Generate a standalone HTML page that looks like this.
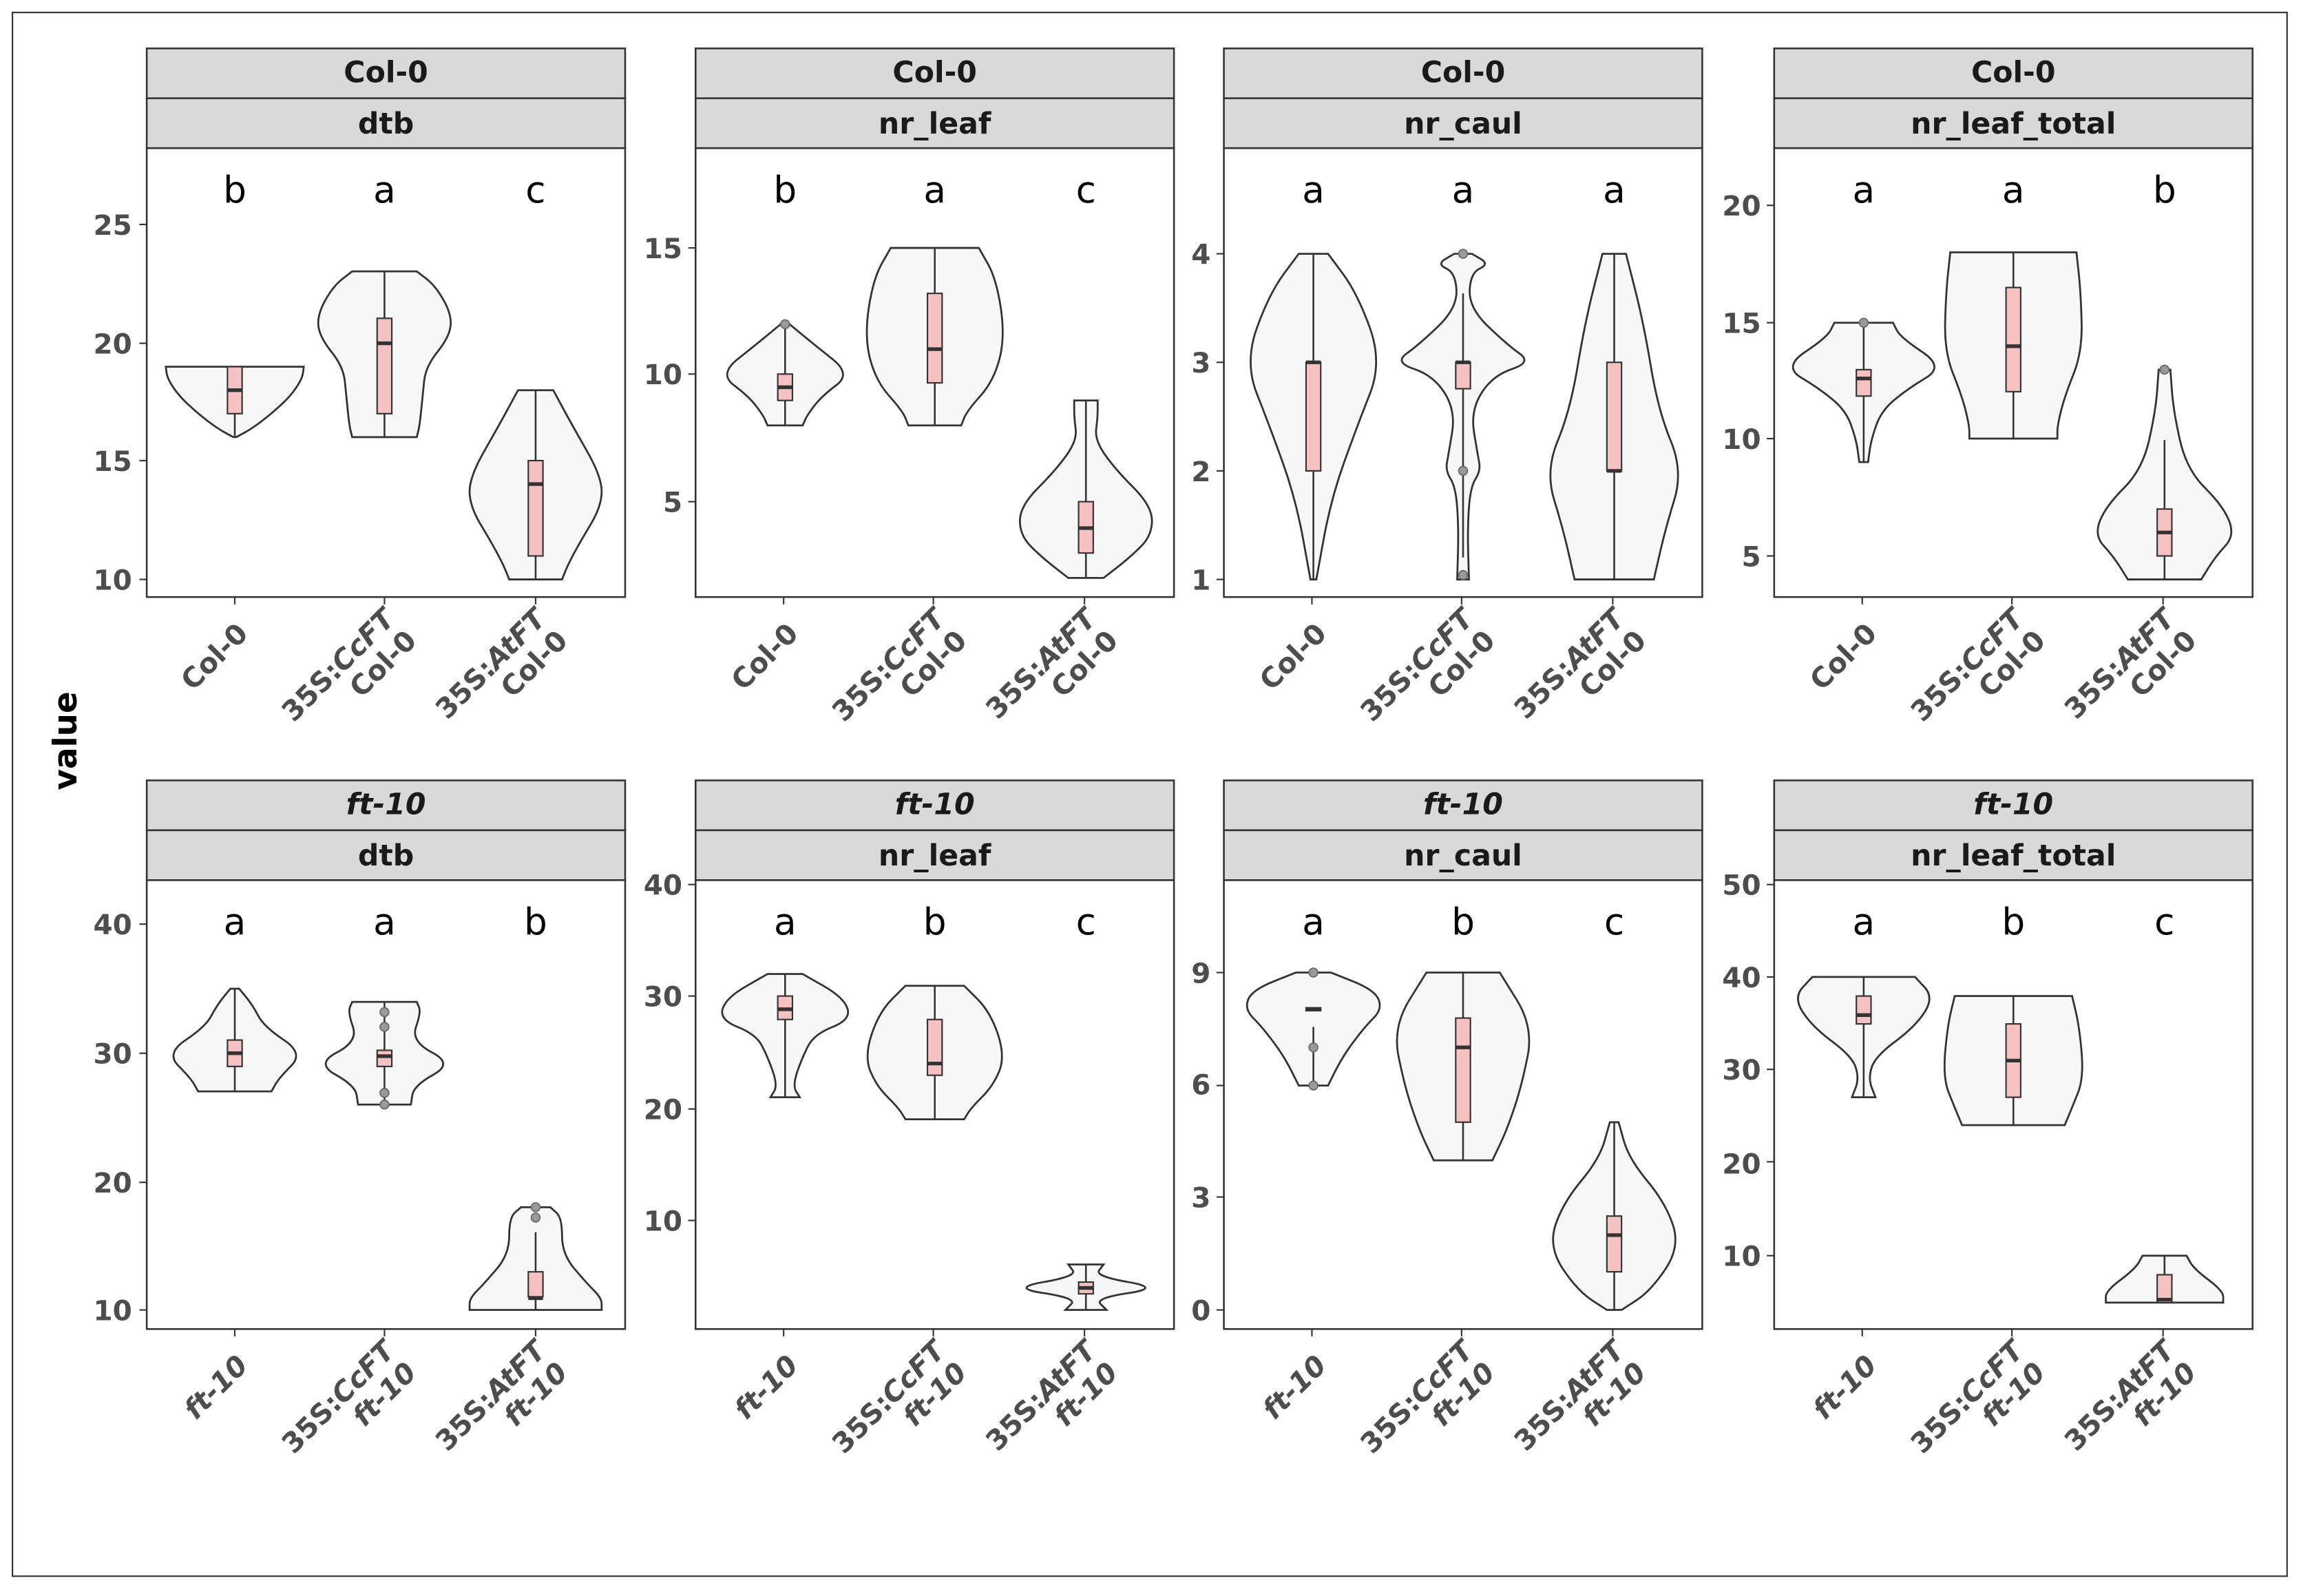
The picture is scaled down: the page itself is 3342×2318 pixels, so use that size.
<!DOCTYPE html>
<html><head><meta charset="utf-8"><style>
html,body{margin:0;padding:0;background:#fff}
svg{display:block}
.st{font:bold 20px "DejaVu Sans","Liberation Sans",sans-serif;fill:#1a1a1a;text-anchor:middle}
.tk{font:bold 19px "DejaVu Sans","Liberation Sans",sans-serif;fill:#4d4d4d;text-anchor:end}
.lt{font:25px "DejaVu Sans","Liberation Sans",sans-serif;fill:#000;text-anchor:middle}
</style></head><body>
<svg id="s" width="3342" height="2318" viewBox="0 0 1568 1088" preserveAspectRatio="none" xmlns="http://www.w3.org/2000/svg">
<rect x="0" y="0" width="1568" height="1088" fill="#fff"/>
<rect x="8.5" y="8.5" width="1550" height="1066" fill="none" stroke="#333" stroke-width="1"/>
<g id="g"></g>
<text transform="translate(52,505) rotate(-90)" style="font:bold 22px 'DejaVu Sans','Liberation Sans',sans-serif;text-anchor:middle">value</text>
<g class="st">
<text x="263" y="56">Col-0</text><text x="263" y="91">dtb</text>
<text x="637" y="56">Col-0</text><text x="637" y="91">nr_leaf</text>
<text x="997" y="56">Col-0</text><text x="997" y="91">nr_caul</text>
<text x="1372" y="56">Col-0</text><text x="1372" y="91">nr_leaf_total</text>
<text x="263" y="555" font-style="italic">ft-10</text><text x="263" y="590">dtb</text>
<text x="637" y="555" font-style="italic">ft-10</text><text x="637" y="590">nr_leaf</text>
<text x="997" y="555" font-style="italic">ft-10</text><text x="997" y="590">nr_caul</text>
<text x="1372" y="555" font-style="italic">ft-10</text><text x="1372" y="590">nr_leaf_total</text>
</g>
<g class="lt">
<text x="160" y="138">b</text><text x="262" y="138">a</text><text x="365" y="138">c</text>
<text x="535" y="138">b</text><text x="637" y="138">a</text><text x="740" y="138">c</text>
<text x="895" y="138">a</text><text x="997" y="138">a</text><text x="1100" y="138">a</text>
<text x="1270" y="138">a</text><text x="1372" y="138">a</text><text x="1475" y="138">b</text>
<text x="160" y="637">a</text><text x="262" y="637">a</text><text x="365" y="637">b</text>
<text x="535" y="637">a</text><text x="637" y="637">b</text><text x="740" y="637">c</text>
<text x="895" y="637">a</text><text x="997" y="637">b</text><text x="1100" y="637">c</text>
<text x="1270" y="637">a</text><text x="1372" y="637">b</text><text x="1475" y="637">c</text>
</g>
<g class="tk">
<text x="90" y="160">25</text><text x="90" y="241">20</text><text x="90" y="321">15</text><text x="90" y="402">10</text>
<text x="465" y="176">15</text><text x="465" y="262">10</text><text x="465" y="349">5</text>
<text x="825" y="180">4</text><text x="825" y="254">3</text><text x="825" y="328">2</text><text x="825" y="402">1</text>
<text x="1200" y="147">20</text><text x="1200" y="227">15</text><text x="1200" y="306">10</text><text x="1200" y="386">5</text>
<text x="90" y="637">40</text><text x="90" y="725">30</text><text x="90" y="813">20</text><text x="90" y="900">10</text>
<text x="465" y="610">40</text><text x="465" y="686">30</text><text x="465" y="763">20</text><text x="465" y="839">10</text>
<text x="825" y="670">9</text><text x="825" y="746">6</text><text x="825" y="823">3</text><text x="825" y="900">0</text>
<text x="1200" y="610">50</text><text x="1200" y="673">40</text><text x="1200" y="736">30</text><text x="1200" y="800">20</text><text x="1200" y="863">10</text>
</g>
<g style="font:bold 19px 'DejaVu Sans','Liberation Sans',sans-serif;fill:#4d4d4d;text-anchor:end">
<g transform="translate(170,433) rotate(-45)"><text>Col-0</text></g>
<g transform="translate(270,423) rotate(-45)"><text>35S:<tspan font-style="italic">CcFT</tspan></text><text y="21">Col-0</text></g>
<g transform="translate(373,423) rotate(-45)"><text>35S:<tspan font-style="italic">AtFT</tspan></text><text y="21">Col-0</text></g>
<g transform="translate(545,433) rotate(-45)"><text>Col-0</text></g>
<g transform="translate(645,423) rotate(-45)"><text>35S:<tspan font-style="italic">CcFT</tspan></text><text y="21">Col-0</text></g>
<g transform="translate(748,423) rotate(-45)"><text>35S:<tspan font-style="italic">AtFT</tspan></text><text y="21">Col-0</text></g>
<g transform="translate(905,433) rotate(-45)"><text>Col-0</text></g>
<g transform="translate(1005,423) rotate(-45)"><text>35S:<tspan font-style="italic">CcFT</tspan></text><text y="21">Col-0</text></g>
<g transform="translate(1108,423) rotate(-45)"><text>35S:<tspan font-style="italic">AtFT</tspan></text><text y="21">Col-0</text></g>
<g transform="translate(1280,433) rotate(-45)"><text>Col-0</text></g>
<g transform="translate(1380,423) rotate(-45)"><text>35S:<tspan font-style="italic">CcFT</tspan></text><text y="21">Col-0</text></g>
<g transform="translate(1483,423) rotate(-45)"><text>35S:<tspan font-style="italic">AtFT</tspan></text><text y="21">Col-0</text></g>
<g transform="translate(170,932) rotate(-45)" font-style="italic"><text>ft-10</text></g>
<g transform="translate(270,922) rotate(-45)"><text>35S:<tspan font-style="italic">CcFT</tspan></text><text y="21" font-style="italic">ft-10</text></g>
<g transform="translate(373,922) rotate(-45)"><text>35S:<tspan font-style="italic">AtFT</tspan></text><text y="21" font-style="italic">ft-10</text></g>
<g transform="translate(545,932) rotate(-45)" font-style="italic"><text>ft-10</text></g>
<g transform="translate(645,922) rotate(-45)"><text>35S:<tspan font-style="italic">CcFT</tspan></text><text y="21" font-style="italic">ft-10</text></g>
<g transform="translate(748,922) rotate(-45)"><text>35S:<tspan font-style="italic">AtFT</tspan></text><text y="21" font-style="italic">ft-10</text></g>
<g transform="translate(905,932) rotate(-45)" font-style="italic"><text>ft-10</text></g>
<g transform="translate(1005,922) rotate(-45)"><text>35S:<tspan font-style="italic">CcFT</tspan></text><text y="21" font-style="italic">ft-10</text></g>
<g transform="translate(1108,922) rotate(-45)"><text>35S:<tspan font-style="italic">AtFT</tspan></text><text y="21" font-style="italic">ft-10</text></g>
<g transform="translate(1280,932) rotate(-45)" font-style="italic"><text>ft-10</text></g>
<g transform="translate(1380,922) rotate(-45)"><text>35S:<tspan font-style="italic">CcFT</tspan></text><text y="21" font-style="italic">ft-10</text></g>
<g transform="translate(1483,922) rotate(-45)"><text>35S:<tspan font-style="italic">AtFT</tspan></text><text y="21" font-style="italic">ft-10</text></g>
</g>
</svg>
<script>
var NS="http://www.w3.org/2000/svg",g=document.getElementById('g');
function el(t,a,p){var e=document.createElementNS(NS,t);for(var k in a)e.setAttribute(k,a[k]);(p||g).appendChild(e);return e;}
var PX=[100,474,834,1209],RY=[[33,101,407],[532,600,906]];
var yt=[[[153,234,314,395],[169,255,342],[173,247,321,395],[140,220,299,379]],[[630,718,806,893],[603,679,756,832],[663,740,816,893],[603,666,729,792,856]]];
for(var r=0;r<2;r++)for(var p=0;p<4;p++){var x=PX[p],R=RY[r];
 el('rect',{x:x,y:R[0],width:326,height:34,fill:'#d9d9d9',stroke:'#333','stroke-width':1.2});
 el('rect',{x:x,y:R[0]+34,width:326,height:34,fill:'#d9d9d9',stroke:'#333','stroke-width':1.2});
 el('rect',{x:x,y:R[1],width:326,height:R[2]-R[1],fill:'#fff',stroke:'#333','stroke-width':1.2});
 yt[r][p].forEach(function(y){el('line',{x1:x-5,x2:x,y1:y,y2:y,stroke:'#333'});});
 [60,162,265].forEach(function(o){el('line',{x1:x+o,x2:x+o,y1:R[2],y2:R[2]+5,stroke:'#333'});});
}
function sm(pts){var d='M'+pts[0][0]+','+pts[0][1];for(var i=1;i<pts.length;i++){var a=pts[i-1],b=pts[i],m=[(a[0]+b[0])/2,(a[1]+b[1])/2];d+=' Q'+a[0]+','+a[1]+' '+m[0]+','+m[1];}d+=' L'+pts[pts.length-1][0]+','+pts[pts.length-1][1];return d;}
function V(cx,prof,box,med,wt,wb,dots){
 var R=prof.map(function(q){return[cx+q[1],q[0]]}),L=prof.slice().reverse().map(function(q){return[cx-q[1],q[0]]});
 var d=sm(R)+' L'+L[0][0]+','+L[0][1]+sm(L).replace(/^M[^ ]+/,'')+' Z';
 el('path',{d:d,fill:'#f7f7f7',stroke:'#333','stroke-width':1.3});
 el('line',{x1:cx,x2:cx,y1:wt,y2:wb,stroke:'#333','stroke-width':1.2});
 el('rect',{x:cx-5,y:box[0],width:10,height:Math.max(box[1]-box[0],2),fill:'#f6c1c1',stroke:'#333','stroke-width':1});
 el('line',{x1:cx-5,x2:cx+5,y1:med,y2:med,stroke:'#333','stroke-width':2.5});
 (dots||[]).forEach(function(y){el('circle',{cx:cx,cy:y,r:3,fill:'#999',stroke:'#666','stroke-width':.8});});
}
V(160,[[250,47],[258,46],[270,38],[282,25],[292,12],[298,1]],[250,282],266,250,298);
V(262,[[185,22],[195,35],[215,46],[230,44],[250,28],[270,26],[290,24],[298,22]],[217,282],234,185,298);
V(365,[[266,12],[290,25],[325,45],[345,45],[370,30],[385,22],[395,18]],[314,379],330,266,395);
V(535,[[221,3],[235,20],[255,45],[270,25],[283,15],[290,12]],[255,273],264,221,290,[221]);
V(637,[[169,30],[190,42],[230,48],[260,40],[280,22],[290,18]],[200,261],238,169,290);
V(740,[[273,8],[285,8],[300,6],[320,20],[345,45],[365,45],[380,30],[394,12]],[342,377],360,273,394);
V(895,[[173,10],[200,30],[247,47],[290,30],[340,12],[395,2]],[247,321],247,173,395);
V(997,[[173,6],[180,18],[186,5],[210,4],[235,30],[247,47],[256,20],[280,5],[310,10],[321,12],[332,5],[360,3],[395,4]],[247,265],247,200,380,[173,321,392]);
V(1100,[[173,8],[220,20],[280,30],[321,47],[360,35],[395,27]],[247,321],321,173,395);
V(1270,[[220,20],[230,25],[250,55],[265,30],[280,12],[300,5],[315,3]],[252,270],258,220,315,[220]);
V(1372,[[172,43],[200,46],[240,47],[270,35],[290,30],[299,30]],[196,267],236,172,299);
V(1475,[[252,4],[280,6],[320,15],[345,40],[365,48],[379,35],[395,25]],[347,379],363,300,395,[252]);
V(160,[[674,3],[685,12],[700,20],[718,47],[735,30],[744,25]],[709,727],718,674,744);
V(262,[[683,22],[690,25],[710,18],[725,47],[740,20],[753,18]],[716,727],720,683,753,[690,700,745,753]);
V(365,[[823,10],[830,18],[855,18],[875,35],[885,45],[893,45]],[867,884],885,840,893,[823,830]);
V(535,[[664,12],[680,40],[695,45],[705,20],[720,12],[740,5],[748,10]],[679,695],688,664,748);
V(637,[[672,20],[690,38],[720,48],[740,40],[755,25],[763,20]],[695,733],725,672,763);
V(740,[[862,12],[870,6],[878,52],[885,6],[893,14]],[874,882],878,862,893);
V(895,[[663,12],[675,42],[688,47],[700,35],[720,20],[740,10]],[687,689],688,700,740,[663,714,740]);
V(997,[[663,25],[700,48],[740,40],[770,30],[791,20]],[694,765],714,663,791);
V(1100,[[765,3],[790,10],[820,35],[850,45],[880,25],[893,5]],[829,867],842,765,893);
V(1270,[[666,35],[680,48],[700,35],[720,8],[735,3],[748,8]],[679,698],692,666,748);
V(1372,[[679,40],[700,45],[735,48],[755,40],[767,35]],[698,748],723,679,767);
V(1475,[[856,15],[865,20],[880,40],[888,40]],[869,888],886,856,888);
</script>
</body></html>
